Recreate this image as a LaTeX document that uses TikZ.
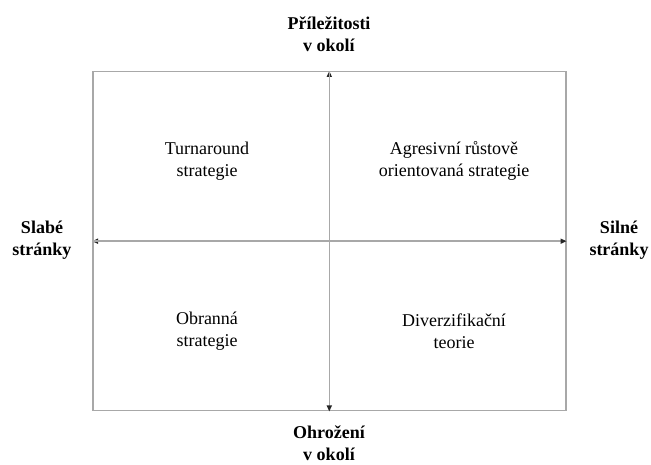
\documentclass[tikz,border=0pt]{standalone}
\usepackage{fontspec}
\setmainfont{Liberation Serif}
\usetikzlibrary{arrows.meta, positioning}
\definecolor{frameGray}{HTML}{A8A8A8}

\begin{document}
\begin{tikzpicture}[x=1pt, y=-1pt,
    font=\fontsize{18}{22}\selectfont,
    axisline/.style={frameGray, line width=1.5pt, -{Triangle[length=6pt, width=5pt, black!85]}},
    quadtext/.style={align=center, inner sep=0pt},
    sidelabel/.style={align=center, inner sep=0pt, font=\fontsize{18}{22}\selectfont\bfseries}]
  \useasboundingbox (0,0) rectangle (651,464);
  % matrix frame
  \node[draw=frameGray, line width=1.5pt, minimum width=473pt, minimum height=339pt,
        inner sep=0pt] (box) at (329.3,241.2) {};
  % axes
  \draw[axisline] (box.south) -- (box.north);
  \draw[axisline] (box.north) -- (box.south);
  \draw[axisline] (box.east) -- (box.west);
  \draw[axisline] (box.west) -- (box.east);
  % quadrants
  \node[quadtext] (turn) at (207,161) {Turnaround\\strategie};
  \node[quadtext] (agr) at (454,161) {Agresivní růstově\\orientovaná strategie};
  \node[quadtext] (obr) at (207,331) {Obranná\\strategie};
  \node[quadtext] (div) at (454,331) {Diverzifikační\\teorie};
  % axis labels
  \node[sidelabel] (opp) at (329,34) {Příležitosti\\v okolí};
  \node[sidelabel] (thr) at (329,443) {Ohrožení\\v okolí};
  \node[sidelabel] (weak) at (42,240) {Slabé\\stránky};
  \node[sidelabel] (strong) at (619,240) {Silné\\stránky};
\end{tikzpicture}
\end{document}
